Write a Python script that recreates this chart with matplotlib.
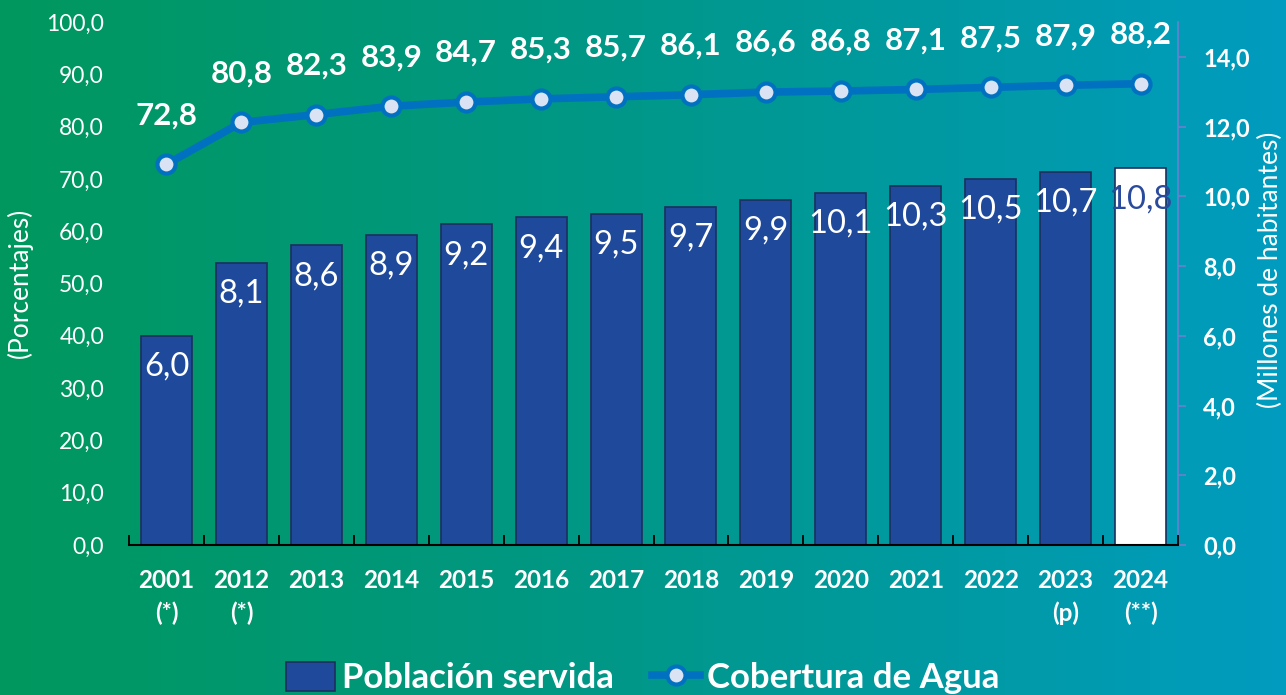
import numpy as np
import matplotlib
matplotlib.use("Agg")
import matplotlib.pyplot as plt
from matplotlib.colors import LinearSegmentedColormap
from matplotlib.lines import Line2D
from matplotlib.patches import Patch

plt.rcParams['font.family'] = ['Lato', 'DejaVu Sans']

years = ["2001\n(*)", "2012\n(*)", "2013", "2014", "2015", "2016", "2017",
         "2018", "2019", "2020", "2021", "2022", "2023\n(p)", "2024\n(**)"]
poblacion = [6.0, 8.1, 8.6, 8.9, 9.2, 9.4, 9.5, 9.7, 9.9, 10.1, 10.3, 10.5, 10.7, 10.8]
cobertura = [72.8, 80.8, 82.3, 83.9, 84.7, 85.3, 85.7, 86.1, 86.6, 86.8, 87.1, 87.5, 87.9, 88.2]

W, H = 1286, 695
fig = plt.figure(figsize=(W / 100, H / 100), dpi=100)

# gradient background
bg = fig.add_axes([0, 0, 1, 1], zorder=-10)
cmap = LinearSegmentedColormap.from_list("bg", ["#00975e", "#00988a", "#009cbf"])
grad = np.linspace(0, 1, 512)[None, :]
bg.imshow(grad, aspect="auto", cmap=cmap, extent=[0, 1, 0, 1])
bg.set_axis_off()

x0, x1 = 129 / W, 1178 / W
y0, y1 = 1 - 545 / H, 1 - 22 / H
ax = fig.add_axes([x0, y0, x1 - x0, y1 - y0])
ax2 = ax.twinx()
ax.set_zorder(ax2.get_zorder() + 1)
ax.patch.set_visible(False)
ax2.patch.set_visible(False)

xs = np.arange(len(years))
bar_colors = ["#1f4a9c"] * (len(years) - 1) + ["white"]
ax2.bar(xs, poblacion, width=0.68, color=bar_colors, edgecolor="#1c2f5e", linewidth=1.2)
for i, v in enumerate(poblacion):
    col = "white" if i < len(poblacion) - 1 else "#2a4a9c"
    ax2.annotate(f"{v:.1f}".replace(".", ","), (i, v), xytext=(0, -31),
                 textcoords="offset pixels", ha="center", va="center",
                 fontsize=23.5, color=col)

ax.plot(xs, cobertura, color="#0070c0", linewidth=5.5, marker="o", markersize=13,
        markerfacecolor="#dae3f3", markeredgecolor="#0070c0", markeredgewidth=3,
        solid_capstyle="round")
for i, v in enumerate(cobertura):
    ax.annotate(f"{v:.1f}".replace(".", ","), (i, v), xytext=(0, 49),
                textcoords="offset pixels", ha="center", va="center",
                fontsize=22.5, fontweight="bold", color="white")

ax.set_xlim(-0.5, len(years) - 0.5)
ax.set_ylim(0, 100)
ax2.set_ylim(0, 15)

ax.set_yticks(np.arange(0, 101, 10))
ax.set_yticklabels([f"{v:.1f}".replace(".", ",") for v in np.arange(0, 101, 10)])
ax.tick_params(axis="y", length=0, pad=18, labelsize=16.5, labelcolor="white")

ax2.set_yticks(np.arange(0, 15, 2))
ax2.set_yticklabels([f"{v:.1f}".replace(".", ",") for v in np.arange(0, 15, 2)],
                    fontweight="bold")
ax2.tick_params(axis="y", length=6, width=1.2, color="#6b7fd0", pad=12,
                labelsize=17, labelcolor="white")

ax.set_xticks(np.arange(-0.5, len(years), 1.0))
ax.set_xticklabels([])
ax.set_xticks(xs, minor=True)
ax.set_xticklabels(years, minor=True, fontweight="bold", fontsize=17.5,
                   color="white", linespacing=1.5)
ax.tick_params(axis="x", which="major", direction="in", length=7, width=1.3, color="black")
ax.tick_params(axis="x", which="minor", length=0, pad=17)
ax2.tick_params(axis="x", which="both", length=0)

for a in (ax, ax2):
    for s in ("top", "left"):
        a.spines[s].set_visible(False)
ax.spines["right"].set_visible(False)
ax2.spines["bottom"].set_visible(False)
ax.spines["bottom"].set_color("black")
ax.spines["bottom"].set_linewidth(1.5)
ax2.spines["right"].set_color("#6b7fd0")
ax2.spines["right"].set_linewidth(1.2)

fig.text(20 / W, 1 - 283 / H, "(Porcentajes)", rotation=90, ha="center", va="center",
         fontsize=19, color="white")
fig.text(1270 / W, 1 - 270 / H, "(Millones de habitantes)", rotation=90, ha="center",
         va="center", fontsize=19, color="white")

handles = [Patch(facecolor="#1f4a9c", edgecolor="#1c2f5e", linewidth=1.2),
           Line2D([0], [0], color="#0070c0", linewidth=5.5, marker="o", markersize=13,
                  markerfacecolor="#dae3f3", markeredgecolor="#0070c0", markeredgewidth=3)]
leg = fig.legend(handles, ["Población servida", "Cobertura de Agua"], loc="center",
                 bbox_to_anchor=(0.5, 1 - 678 / H), ncol=2, frameon=False,
                 prop={"weight": "bold", "size": 25}, labelcolor="white",
                 handlelength=1.4, handleheight=0.9, handletextpad=0.2, columnspacing=1.1)

fig.savefig("out.png", dpi=100)
